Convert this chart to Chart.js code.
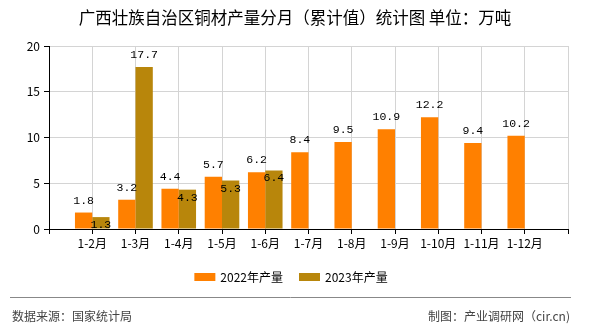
<!DOCTYPE html>
<html>
<head>
<meta charset="utf-8">
<script src="https://cdn.jsdelivr.net/npm/chart.js@4/dist/chart.umd.min.js"></script>
<style>
  html, body { margin: 0; padding: 0; background: #fff; }
  #wrap { position: relative; width: 590px; height: 330px; }
</style>
</head>
<body>
<div id="wrap"><canvas id="c" width="590" height="330"></canvas></div>
<script>
// Monthly cumulative copper products output, 10k tonnes
const months = ['1-2月', '1-3月', '1-4月', '1-5月', '1-6月', '1-7月', '1-8月', '1-9月', '1-10月', '1-11月', '1-12月'];
const output2022 = [1.8, 3.2, 4.4, 5.7, 6.2, 8.4, 9.5, 10.9, 12.2, 9.4, 10.2];
const output2023 = [1.3, 17.7, 4.3, 5.3, 6.4, null, null, null, null, null, null];
const seriesNames = ['2022年产量', '2023年产量'];
const yTicks = [0, 5, 10, 15, 20];

const titleText = '广西壮族自治区铜材产量分月（累计值）统计图 单位：万吨';
const sourceText = '数据来源：国家统计局';
const creditText = '制图：产业调研网（cir.cn)';

const COLORS = ['#FF8000', '#B8860B'];
const CJK = '"Noto Sans CJK SC", "Noto Sans", sans-serif';
const MONO = '"Liberation Mono", "DejaVu Sans Mono", monospace';

// blank slots at both ends so the months sit on grid lines
const labels = [''].concat(months, ['']);
const pad = arr => [null].concat(arr, [null]);

const decorations = {
  id: 'decorations',
  afterDatasetsDraw(chart) {
    const ctx = chart.ctx;
    ctx.save();
    ctx.font = '11.5px ' + MONO;
    ctx.fillStyle = '#000';
    ctx.textAlign = 'center';
    ctx.textBaseline = 'middle';
    const m0 = chart.getDatasetMeta(0).data;
    const m1 = chart.getDatasetMeta(1).data;
    const d0 = chart.data.datasets[0].data;
    const d1 = chart.data.datasets[1].data;
    for (let i = 0; i < labels.length; i++) {
      let y0 = null;
      if (d0[i] != null) {
        y0 = m0[i].y - 12;
        ctx.fillText(d0[i].toFixed(1), m0[i].x, y0);
      }
      if (d1[i] != null) {
        let y1 = m1[i].y - 12;
        // push the label into the bar when it would clash with its neighbour
        if (y0 !== null && Math.abs(y1 - y0) < 14) y1 = m1[i].y + 8;
        ctx.fillText(d1[i].toFixed(1), m1[i].x, y1);
      }
    }
    ctx.restore();
  },
  afterDraw(chart) {
    const ctx = chart.ctx;
    ctx.save();
    // title
    ctx.fillStyle = '#000';
    ctx.font = '16.5px ' + CJK;
    ctx.textAlign = 'center';
    ctx.textBaseline = 'middle';
    ctx.fillText(titleText, 295, 18);

    // legend
    ctx.font = '12px ' + CJK;
    ctx.textAlign = 'left';
    const boxW = 21, boxH = 8, gap = 5, itemGap = 16;
    let total = 0;
    const widths = seriesNames.map(n => ctx.measureText(n).width);
    widths.forEach((w, i) => { total += boxW + gap + w + (i ? itemGap : 0); });
    let x = 291 - total / 2;
    const ly = 277;
    seriesNames.forEach((n, i) => {
      ctx.fillStyle = COLORS[i];
      ctx.fillRect(x, ly - boxH / 2, boxW, boxH);
      ctx.fillStyle = '#000';
      ctx.fillText(n, x + boxW + gap, ly);
      x += boxW + gap + widths[i] + itemGap;
    });

    // footer rule and credits
    ctx.strokeStyle = '#888';
    ctx.lineWidth = 1;
    ctx.beginPath();
    ctx.moveTo(10, 297.5);
    ctx.lineTo(571, 297.5);
    ctx.stroke();
    ctx.fillStyle = '#444';
    ctx.font = '12px ' + CJK;
    ctx.textAlign = 'left';
    ctx.fillText(sourceText, 12, 316);
    ctx.textAlign = 'right';
    ctx.fillText(creditText, 570, 316);
    ctx.restore();
  }
};

new Chart(document.getElementById('c'), {
  type: 'bar',
  data: {
    labels: labels,
    datasets: [
      { label: seriesNames[0], data: pad(output2022), backgroundColor: COLORS[0] },
      { label: seriesNames[1], data: pad(output2023), backgroundColor: COLORS[1] }
    ]
  },
  options: {
    responsive: false,
    animation: false,
    devicePixelRatio: 1,
    categoryPercentage: 0.8,
    barPercentage: 1.0,
    layout: { padding: { top: 46, right: 22, left: 0, bottom: 0 } },
    plugins: {
      legend: { display: false },
      title: { display: false },
      tooltip: { enabled: false }
    },
    scales: {
      x: {
        offset: false,
        grid: { offset: false, color: '#d4d4d4', tickColor: '#000', tickLength: 5, lineWidth: 1 },
        border: { color: '#000', width: 1 },
        ticks: { font: { family: CJK, size: 12 }, color: '#000', maxRotation: 0, autoSkip: false, padding: 2 },
        afterFit(scale) { scale.height = 101; }
      },
      y: {
        min: 0,
        max: 20,
        afterBuildTicks(scale) { scale.ticks = yTicks.map(v => ({ value: v })); },
        grid: { color: '#d4d4d4', tickColor: '#000', tickLength: 5 },
        border: { color: '#000', width: 1 },
        ticks: { font: { family: CJK, size: 12 }, color: '#000', padding: 4 },
        afterFit(scale) { scale.width = 49; }
      }
    }
  },
  plugins: [decorations]
});
</script>
</body>
</html>
